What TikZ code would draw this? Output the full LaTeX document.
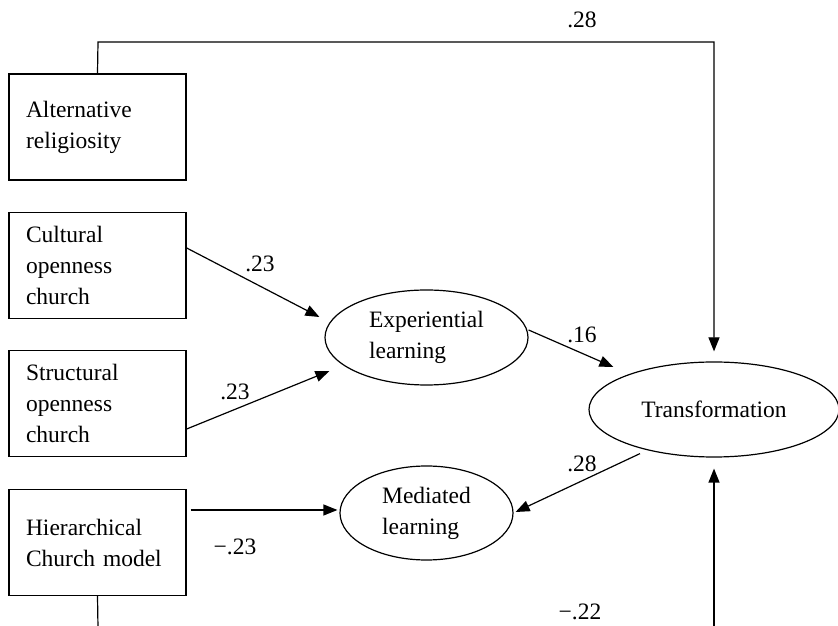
\documentclass[tikz,border=0pt]{standalone}
\usepackage{fontspec}
\setmainfont{Liberation Serif}
\usetikzlibrary{arrows.meta,shapes.geometric}
\begin{document}
\begin{tikzpicture}[x=1pt,y=1pt,
  txt/.style={font=\fontsize{23.5}{31}\selectfont},
  box/.style={txt,draw,line width=1.4pt,minimum width=177pt,minimum height=106pt,text width=143pt,align=left,inner xsep=17pt,inner ysep=0pt},
  ell/.style={txt,draw,ellipse,line width=1.2pt,inner sep=0pt,align=left},
  conn/.style={line width=1.2pt,-{Triangle[length=14pt,width=11pt]}},
  wire/.style={line width=1.2pt},
  lab/.style={txt,inner sep=0pt}]
\useasboundingbox (0,0) rectangle (838,626);
\fill[white] (0,0) rectangle (838,626);
% boxes
\node[box] (alt) at (97.5,499) {Alternative\\religiosity};
\node[box] (cul) at (97.5,360.5) {Cultural\\openness\\church};
\node[box] (str) at (97.5,222.5) {Structural\\openness\\church};
\node[box] (hie) at (97.5,83.5) {Hierarchical\\Church model};
% ellipses
\node[ell,minimum width=203pt,minimum height=95pt] (exp) at (426.5,288.5) {Experiential\\learning};
\node[ell,minimum width=173pt,minimum height=94pt] (med) at (426.5,113) {Mediated\\learning};
\node[ell,minimum width=250pt,minimum height=95pt] (tra) at (714,216.5) {Transformation};
% free ends
\coordinate (topc) at (98,584);
\coordinate (botr) at (714,-2);
\coordinate (botl) at (98,-2);
% connectors
\draw[conn] (alt.north) -- (topc) -| ([yshift=10pt]tra.north);
\draw[conn] ([yshift=17.5pt]cul.east) -- ([shift={(-5pt,20.5pt)}]exp.west);
\draw[conn] ([yshift=-25.5pt]str.east) -- ([shift={(5pt,-33.5pt)}]exp.west);
\draw[conn] ([shift={(4pt,32.5pt)}]hie.east) -- ([shift={(-2pt,3pt)}]med.west);
\draw[conn] ([yshift=7.5pt]exp.east) -- ([shift={(25pt,42.5pt)}]tra.west);
\draw[conn] ([shift={(-74pt,4pt)}]tra.south) -- ([shift={(2pt,1pt)}]med.east);
\draw[conn] (botr) -- ([yshift=-11pt]tra.south);
\draw[wire] (hie.south) -- (botl);
% labels
\node[lab] at (582,606) {.28};
\node[lab] at (260,362) {.23};
\node[lab] at (235,234) {.23};
\node[lab] at (235,79) {−.23};
\node[lab] at (582,291) {.16};
\node[lab] at (582,162) {.28};
\node[lab] at (580,14) {−.22};
\end{tikzpicture}
\end{document}
